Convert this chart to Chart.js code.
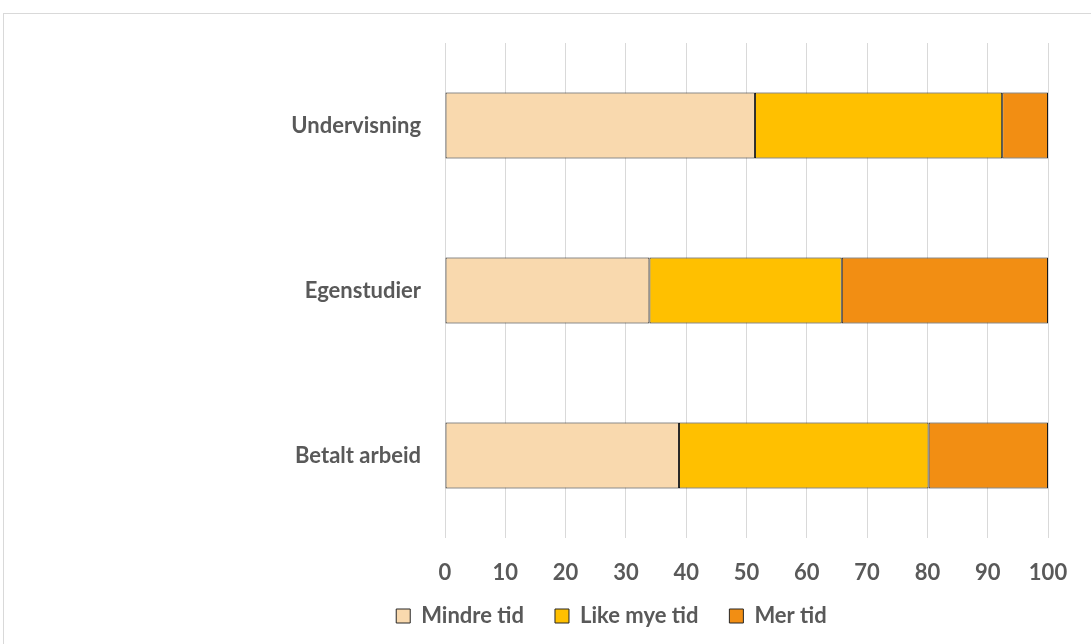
<!DOCTYPE html>
<html>
<head>
<meta charset="utf-8">
<title>Tidsbruk</title>
<script src="https://cdn.jsdelivr.net/npm/chart.js@4.4.1/dist/chart.umd.min.js"></script>
<style>
  body { margin:0; background:#fff; overflow:hidden; }
  #frame { position:absolute; left:3px; top:13px; width:1100px; height:640px; border:1px solid #d9d9d9; }
  #wrap { position:absolute; left:0; top:0; width:1091px; height:660px; }
</style>
</head>
<body>
<div id="frame"></div>
<div id="wrap"><canvas id="c" width="1091" height="660"></canvas></div>
<script>
// data
var categories = ["Undervisning", "Egenstudier", "Betalt arbeid"];
var seriesNames = ["Mindre tid", "Like mye tid", "Mer tid"];
var mindreTid = [51.4, 33.9, 38.8];
var likeMyeTid = [41.0, 31.9, 41.4];
var merTid = [7.6, 34.2, 19.8];
var xTicks = [0, 10, 20, 30, 40, 50, 60, 70, 80, 90, 100];

var colors = ["#F9D9AE", "#FFC000", "#F28E13"];
var textColor = "#595959";
var font = { family: "Lato, 'Liberation Sans', sans-serif", size: 22, weight: "bold" };

var padLeft = 175;

// legend sits a bit closer to the axis than its padding would allow
var legendShift = {
  id: "legendShift",
  afterLayout: function(ch) {
    ch.legend.top -= 12;
    ch.legend.bottom -= 12;
  }
};

var chart = new Chart(document.getElementById("c").getContext("2d"), {
  type: "bar",
  data: {
    labels: categories,
    datasets: [mindreTid, likeMyeTid, merTid].map(function(v, i) {
      return {
        label: seriesNames[i],
        data: v,
        backgroundColor: colors[i],
        borderColor: "#1a1a1a",
        borderWidth: 1,
        borderSkipped: false,
        categoryPercentage: 0.40,
        barPercentage: 1.0
      };
    })
  },
  plugins: [legendShift],
  options: {
    indexAxis: "y",
    responsive: false,
    animation: false,
    layout: { padding: { left: padLeft, right: 43, top: 43, bottom: 11 } },
    scales: {
      x: {
        stacked: true,
        min: 0, max: 100,
        afterBuildTicks: function(s) { s.ticks = xTicks.map(function(v) { return { value: v }; }); },
        grid: { color: "#d9d9d9", lineWidth: 1, drawTicks: false },
        border: { display: false },
        ticks: { color: textColor, font: font, padding: 22 },
        afterFit: function(s) { s.height = 48; }
      },
      y: {
        stacked: true,
        grid: { display: false },
        border: { display: false },
        ticks: { color: textColor, font: font, padding: 16 },
        afterFit: function(s) { s.width = 445 - padLeft; }
      }
    },
    plugins: {
      tooltip: { enabled: false },
      legend: {
        position: "bottom",
        labels: {
          color: textColor,
          font: font,
          boxWidth: 14,
          boxHeight: 14,
          padding: 31,
          generateLabels: function(ch) {
            return ch.data.datasets.map(function(d, i) {
              return {
                text: d.label, fillStyle: colors[i], strokeStyle: "#262626",
                lineWidth: 1, fontColor: textColor, datasetIndex: i
              };
            });
          }
        }
      }
    }
  }
});
</script>
</body>
</html>
